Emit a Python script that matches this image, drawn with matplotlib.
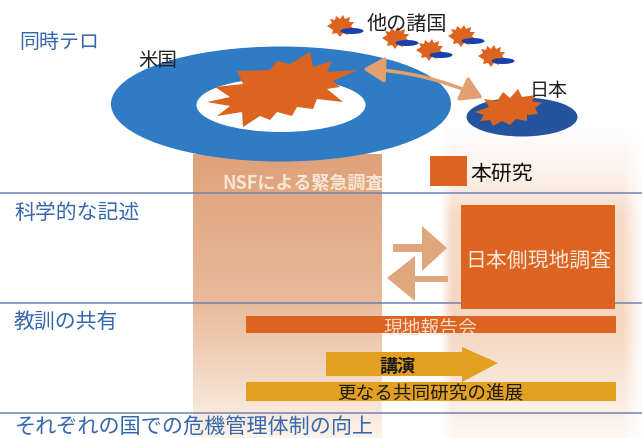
import numpy as np
import matplotlib
matplotlib.use("Agg")
import matplotlib.pyplot as plt
from matplotlib.patches import Ellipse, Polygon, Rectangle, FancyArrowPatch
from matplotlib.colors import LinearSegmentedColormap

plt.rcParams['font.family'] = ['Noto Sans CJK JP', 'DejaVu Sans']

stage_labels = ["同時テロ", "科学的な記述", "教訓の共有", "それぞれの国での危機管理体制の向上"]
stage_x = [19, 14, 14, 15]
stage_y = [42, 213, 322, 428]
divider_y = [194, 304, 414]
country_labels = ["米国", "日本", "他の諸国"]
legend_label = "本研究"
nsf_label = "NSFによる緊急調査"
japan_label = "日本側現地調査"
report_label = "現地報告会"
lecture_label = "講演"
joint_label = "更なる共同研究の進展"

ORANGE = "#dd6420"
BLUE = "#2f7cc4"
NAVY = "#25549f"
TAN = "#e0a67c"
GOLD = "#e3a020"
LINE = "#6f83b5"
TEXT_BLUE = "#3568ad"

fig = plt.figure(figsize=(6.42, 4.39), dpi=100)
ax = fig.add_axes([0, 0, 1, 1])
ax.set_xlim(0, 642)
ax.set_ylim(439, 0)
ax.axis("off")


def burst(points, zorder=4):
    ax.add_patch(Polygon(points, closed=True, color=ORANGE, lw=0, zorder=zorder))


def small_burst(cx, cy):
    spikes = [(-14, 0), (-9, -3), (-11, -7), (-6, -6), (-5, -10), (-1, -7), (2, -11), (4, -7),
              (9, -9), (8, -4), (13, -4), (10, 0), (13, 3), (8, 5), (7, 9), (2, 7), (-1, 11),
              (-4, 7), (-9, 8), (-8, 4)]
    burst([(cx + a, cy + b) for a, b in spikes], zorder=4)


# pale column behind the Japanese side, fades out on every side
ys = np.arange(125, 439)
xs = np.arange(440, 642)
fade_y = np.interp(ys, [125, 190, 215, 330, 400, 439], [0.0, 0.2, 0.38, 0.42, 0.2, 0.08])
fade_x = np.interp(xs, [440, 452, 622, 632, 642], [0.0, 1.0, 1.0, 0.5, 0.05])
rgba = np.zeros((len(ys), len(xs), 4))
rgba[..., :3] = [0.90, 0.62, 0.42]
rgba[..., 3] = np.outer(fade_y, fade_x)
ax.imshow(rgba, extent=[440, 642, 439, 125], aspect="auto", zorder=1)

# NSF column
nsf_cmap = LinearSegmentedColormap.from_list(
    "nsf", [(0, "#dfa27a"), (0.5, "#e8b898"), (0.65, "#eec8ae"), (1, "#fdf3ea")])
ax.imshow(np.linspace(0, 1, 128).reshape(-1, 1), cmap=nsf_cmap,
          extent=[193, 382, 439, 155], aspect="auto", zorder=1)

# dividers
for y in divider_y:
    ax.plot([0, 642], [y, y], color=LINE, lw=1.1, zorder=2)

# countries
ax.add_patch(Ellipse((281, 105), 340, 115, color=BLUE, lw=0, zorder=3))
ax.add_patch(Ellipse((281, 106), 169, 54, color="white", lw=0, zorder=3.5))
ax.add_patch(Ellipse((522, 118), 111, 39, color=NAVY, lw=0, zorder=3))
main_burst = [(207, 103), (230, 98), (215, 88), (243, 85), (237, 72), (270, 71), (277, 62),
              (290, 65), (310, 53), (313, 68), (332, 62), (327, 73), (358, 71), (333, 82),
              (340, 88), (327, 90), (343, 103), (317, 100), (313, 110), (297, 108),
              (292, 117), (277, 113), (270, 121), (260, 117), (243, 128), (242, 113),
              (217, 117), (230, 107)]
burst(main_burst)
japan_burst = [(475, 113), (489, 108), (484, 100), (497, 102), (503, 93), (510, 99), (518, 90),
               (522, 98), (536, 96), (532, 102), (542, 104), (535, 109), (538, 115),
               (527, 116), (527, 122), (516, 120), (510, 126), (502, 122), (493, 127),
               (490, 121), (480, 122), (484, 116)]
burst(japan_burst)

# other countries
small_x = [341, 396, 430, 462, 492]
small_y = [27, 39, 51, 37, 57]
for cx, cy in zip(small_x, small_y):
    small_burst(cx, cy)
    ax.add_patch(Ellipse((cx + 11, cy + 5), 23, 6, color="#1743a8", lw=0, zorder=4.5))

# double arrow between the US and Japan
ax.add_patch(FancyArrowPatch((363, 70), (483, 99), connectionstyle="arc3,rad=-0.1",
                             arrowstyle="<|-|>,head_length=5,head_width=3", color="#e2a070",
                             lw=2.5, mutation_scale=2.6, shrinkA=0, shrinkB=0, zorder=6))

# legend square
ax.add_patch(Rectangle((430, 157), 37, 30, color=ORANGE, lw=0, zorder=4))
ax.text(470, 174, legend_label, fontsize=15, va="center", ha="left", color="#111111", zorder=7)

# country names
ax.text(158, 61, country_labels[0], fontsize=14, ha="center", va="center", color="#222222", zorder=7)
ax.text(549, 90, country_labels[1], fontsize=13.7, ha="center", va="center", color="#222222", zorder=7)
ax.text(407, 24, country_labels[2], fontsize=14.5, ha="center", va="center", color="#222222", zorder=7)

# stage labels
stage_sizes = [14.4, 15, 15, 15.2]
for label, x, y, size in zip(stage_labels, stage_x, stage_y, stage_sizes):
    ax.text(x, y, label, fontsize=size, ha="left", va="center", color=TEXT_BLUE, zorder=7)

nsf_text = ax.text(222, 184, nsf_label, fontsize=13, ha="left", va="center", color="#f7e6d6",
                   fontweight="bold", zorder=7)
nsf_text.set_clip_path(Rectangle((193, 155), 189, 60, transform=ax.transData))

# Japan-side box and exchange arrows
ax.add_patch(Rectangle((461, 206), 154, 104, color=ORANGE, lw=0, zorder=4))
ax.text(538, 261, japan_label, fontsize=15, ha="center", va="center", color="#f8e8dc", zorder=7)
ax.add_patch(Polygon([(393, 245), (422, 245), (422, 227), (447, 249), (422, 272), (422, 253), (393, 253)],
                     color=TAN, lw=0, zorder=4))
ax.add_patch(Polygon([(448, 277), (415, 277), (415, 257), (387, 279), (415, 302), (415, 283), (448, 283)],
                     color=TAN, lw=0, zorder=4))

# bars
ax.add_patch(Rectangle((246, 317), 370, 17, color=ORANGE, lw=0, zorder=4))
ax.text(430, 328, report_label, fontsize=13.5, ha="center", va="center", color="#f5dccb", zorder=7)
ax.add_patch(Polygon([(326, 353), (462, 353), (462, 348), (498, 364), (462, 383), (462, 377), (326, 377)],
                     color=GOLD, lw=0, zorder=4))
ax.text(397, 367, lecture_label, fontsize=13, ha="center", va="center", color="#1a1a1a",
        fontweight="bold", zorder=7)
ax.add_patch(Rectangle((246, 383), 370, 19, color=GOLD, lw=0, zorder=4))
ax.text(430, 394, joint_label, fontsize=13.4, ha="center", va="center", color="#1a1a1a", zorder=7)

fig.savefig("out.png", dpi=100)
